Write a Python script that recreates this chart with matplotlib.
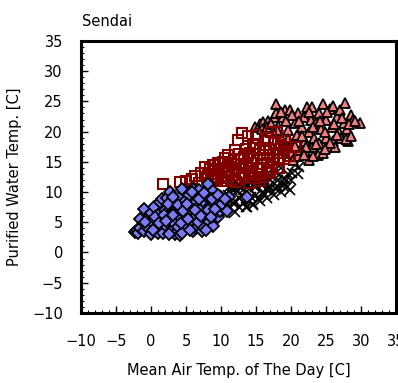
import matplotlib.pyplot as plt
from matplotlib.ticker import MultipleLocator

# winter - blue diamonds
winter_x = [-2.3, -2.0, -1.8, -1.5, -1.0, -1.0, -0.5, -0.3, 0.0, 0.0, 0.2, 0.5, 0.8, 1.0, 1.0, 1.3,
            1.5, 1.6, 1.7, 2.0, 2.0, 2.3, 2.5, 2.7, 2.8, 3.0, 3.0, 3.5, 3.5, 3.8, 4.0, 4.0, 4.1,
            4.2, 4.5, 4.5, 4.8, 5.0, 5.0, 5.5, 5.5, 5.8, 6.0, 6.0, 6.2, 6.5, 6.5, 6.9, 7.0, 7.0,
            7.3, 7.5, 7.5, 7.8, 8.0, 8.2, 8.3, 8.5, 8.9, 8.9, 9.0, 9.3, 9.6, 9.8, 10.0, 10.3,
            11.1, 13.7,
            -1.5, -0.8, 0.3, 0.6, 1.2, 1.8, 2.2, 2.4, 2.6, 3.2, 3.2, 3.8, 4.3, 4.6, 5.2, 5.3,
            5.6, 5.9, 6.3, 6.7, 6.8, 7.2, 7.6, 8.1, 8.6, 8.7, 9.2, 9.5, 10.1, 10.6, 10.8, 7.9]
winter_y = [3.4, 3.8, 3.2, 4.0, 3.5, 7.2, 4.2, 6.0, 3.0, 6.5, 5.0, 7.5, 4.0, 3.2, 6.2, 8.3,
            5.5, 8.9, 3.2, 7.0, 4.5, 9.0, 6.0, 10.0, 3.5, 8.0, 5.2, 6.8, 3.0, 4.2, 9.0, 7.5, 2.9,
            5.8, 3.2, 10.5, 8.5, 6.3, 4.5, 9.5, 7.2, 5.0, 10.5, 3.5, 8.0, 6.0, 4.0, 10.3, 7.0, 5.2,
            3.6, 8.5, 4.2, 6.2, 9.2, 11.3, 5.0, 7.5, 10.2, 4.3, 6.0, 8.5, 5.9, 6.8, 9.0, 7.5,
            9.2, 9.2,
            5.5, 5.0, 3.8, 5.8, 4.8, 6.2, 5.2, 8.0, 3.0, 6.2, 9.2, 7.8, 4.8, 6.8, 8.0, 5.5,
            3.8, 10.0, 7.0, 5.0, 8.8, 6.0, 9.8, 7.0, 5.8, 8.8, 7.2, 9.5, 8.0, 8.8, 6.8, 3.8]

# autumn - black crosses
autumn_x = [9.5, 10.0, 10.5, 10.5, 11.0, 11.0, 11.5, 11.5, 12.0, 12.0, 12.0, 12.5, 12.5, 13.0,
            13.0, 13.5, 13.5, 13.7, 14.0, 14.0, 14.5, 14.5, 14.6, 15.0, 15.0, 15.5, 15.5, 16.0,
            16.0, 16.5, 16.5, 16.6, 17.0, 17.0, 17.5, 17.5, 18.0, 18.1, 18.5, 18.5, 19.0, 19.4,
            19.5, 19.9, 20.0, 20.5, 21.0,
            11.2, 11.8, 12.3, 12.8, 13.2, 13.8, 14.2, 14.8, 15.2, 15.8, 16.2, 16.8, 17.3, 11.8,
            12.6, 13.3, 14.3, 15.3, 16.2, 17.8, 18.8, 18.3, 19.2, 20.2, 21.2]
autumn_y = [7.0, 8.5, 6.5, 9.5, 9.5, 7.5, 10.5, 11.0, 6.7, 8.5, 10.5, 11.0, 7.5, 9.5,
            10.8, 7.5, 11.5, 7.5, 8.5, 10.5, 7.8, 12.0, 8.0, 9.5, 11.0, 8.5, 12.5, 10.0,
            11.5, 9.0, 13.0, 10.3, 10.5, 12.0, 9.5, 13.5, 11.0, 12.0, 10.0, 14.0, 11.5, 10.8,
            13.0, 10.3, 12.0, 14.5, 13.0,
            10.8, 11.3, 10.2, 11.6, 10.3, 11.0, 11.6, 10.8, 11.8, 11.2, 12.2, 11.0, 12.5, 8.0,
            9.0, 8.2, 9.2, 8.8, 9.5, 10.5, 11.0, 12.8, 12.2, 13.2, 14.2]

# spring - dark red squares
spring_x = [1.7, 4.1, 5.0, 5.8, 6.3, 6.8, 7.2, 7.7, 8.0, 8.5, 8.9, 9.2, 9.5, 9.8, 10.0, 10.3,
            10.5, 10.8, 11.0, 11.2, 11.5, 11.8, 12.0, 12.2, 12.4, 12.5, 12.8, 13.0, 13.0, 13.3,
            13.5, 13.9, 14.0, 14.0, 14.2, 14.5, 14.8, 15.0, 15.2, 15.5, 15.5, 15.8, 16.0, 16.0,
            16.3, 16.5, 16.8, 17.0, 17.2, 17.4, 17.5, 18.0, 18.0, 18.3, 18.5, 19.0, 19.4, 19.8,
            20.6,
            8.2, 8.8, 9.0, 9.6, 10.2, 10.6, 11.0, 11.4, 11.6, 12.2, 12.6, 12.9, 13.2, 13.6,
            13.8, 14.3, 14.6, 14.9, 15.3, 15.7, 16.2, 16.6, 17.0, 17.3, 17.8, 18.2, 18.8, 19.2,
            16.7, 15.0, 14.5, 12.0, 10.5, 9.5]
spring_y = [11.3, 11.7, 11.8, 12.2, 12.6, 11.5, 13.2, 14.2, 12.5, 13.8, 14.5, 11.8, 13.0, 14.8,
            12.3, 15.0, 13.6, 11.8, 16.1, 14.2, 12.8, 15.5, 13.5, 11.7, 18.6, 16.3, 14.5, 19.7,
            12.3, 15.8, 17.2, 19.2, 13.5, 11.5, 16.5, 14.8, 12.3, 18.0, 15.5, 17.0, 11.8, 13.8,
            12.5, 16.2, 18.5, 14.8, 17.0, 13.2, 20.0, 15.3, 18.2, 20.0, 16.5, 14.0, 17.8, 15.5,
            17.5, 16.0, 17.5,
            13.0, 12.2, 13.5, 12.5, 13.8, 12.6, 13.2, 14.8, 12.0, 14.0, 12.8, 15.5, 13.2, 14.2,
            16.2, 12.8, 15.6, 17.3, 13.0, 14.6, 15.6, 13.5, 16.2, 14.2, 17.2, 15.3, 16.5, 18.5,
            19.0, 19.5, 18.0, 17.0, 15.6, 14.8]

# summer - salmon triangles
summer_x = [14.9, 15.5, 16.0, 16.7, 17.0, 17.5, 17.9, 18.2, 18.5, 18.9, 19.0, 19.2, 19.5, 19.9,
            20.0, 20.0, 20.3, 20.5, 20.8, 21.0, 21.0, 21.3, 21.5, 21.8, 22.0, 22.0, 22.3, 22.5,
            22.5, 22.8, 23.0, 23.0, 23.3, 23.5, 23.8, 24.0, 24.0, 24.3, 24.6, 24.6, 25.0, 25.0,
            25.3, 25.5, 25.8, 26.0, 26.0, 26.3, 26.5, 26.8, 27.0, 27.2, 27.5, 27.7, 28.0, 28.1,
            28.5, 28.9, 29.9,
            15.8, 16.5, 17.2, 17.8, 18.0, 18.6, 19.3, 19.6, 20.2, 20.6, 21.2, 21.6, 22.2, 22.6,
            23.2, 23.6, 24.2, 24.8, 25.2, 25.6, 26.2, 26.6, 27.3, 27.8, 28.3, 28.6, 29.2, 24.8,
            23.2, 21.8]
summer_y = [20.8, 21.3, 21.6, 21.7, 20.0, 22.5, 24.6, 21.0, 19.0, 22.4, 17.5, 23.5, 20.2, 23.6,
            18.0, 16.5, 15.3, 21.5, 19.5, 23.0, 16.0, 17.0, 20.8, 22.5, 18.5, 16.8, 24.0, 15.3,
            20.0, 22.0, 24.0, 17.5, 19.0, 21.5, 16.2, 23.0, 18.2, 20.5, 24.6, 16.4, 22.0, 19.0,
            17.5, 23.8, 20.8, 24.3, 18.5, 17.5, 22.5, 20.0, 23.5, 19.0, 21.5, 24.7, 20.5, 18.4,
            22.8, 22.0, 21.5,
            20.5, 20.8, 21.2, 23.0, 20.2, 23.3, 21.8, 18.8, 22.8, 17.6, 21.8, 19.2, 17.5, 23.2,
            20.8, 18.0, 21.8, 20.0, 23.2, 18.2, 21.2, 19.5, 22.3, 18.8, 21.2, 19.2, 21.8, 17.2,
            16.0, 16.2]

plt.rcParams['font.family'] = ['DejaVu Sans']
fig = plt.figure(figsize=(3.98, 3.83), dpi=100)
ax = fig.add_axes([0.2035, 0.183, 0.7915, 0.71])

ax.plot(autumn_x, autumn_y, 'x', color='black', ms=7, mew=1.2, zorder=2)
ax.plot(summer_x, summer_y, '^', mfc='#F08080', mec='black', ms=7.5, mew=1.3, zorder=3)
ax.plot(spring_x, spring_y, 's', mfc='none', mec='#800000', ms=7.5, mew=1.5, zorder=4)
ax.plot(winter_x, winter_y, 'D', mfc='#7B7BF5', mec='black', ms=6, mew=1.3, zorder=5)

ax.set_xlim(-10, 35)
ax.set_ylim(-10, 35)
ax.xaxis.set_major_locator(MultipleLocator(5))
ax.yaxis.set_major_locator(MultipleLocator(5))
ax.xaxis.set_minor_locator(MultipleLocator(1))
ax.yaxis.set_minor_locator(MultipleLocator(1))
ax.tick_params(which='both', direction='in', top=False, right=False, labelsize=10.5)
ax.tick_params(which='major', length=5, width=1)
ax.tick_params(which='minor', length=2.5, width=0.8)
ax.tick_params(axis='x', pad=15)
ax.tick_params(axis='y', pad=13)
for s in ax.spines.values():
    s.set_linewidth(2.2)

ax.set_xlabel('Mean Air Temp. of The Day [C]', fontsize=10.5, labelpad=10)
ax.set_ylabel('Purified Water Temp. [C]', fontsize=10.5, labelpad=7)
fig.text(0.206, 1 - 21 / 383, 'Sendai', fontsize=10.5, va='center')

fig.savefig('out.png', dpi=100)
